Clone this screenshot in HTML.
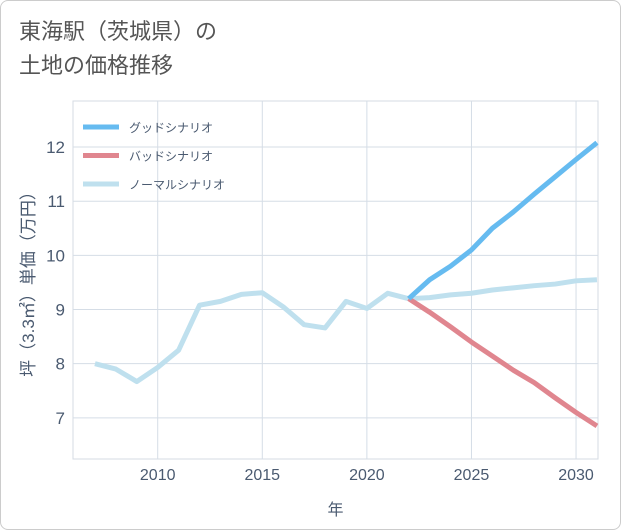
<!DOCTYPE html>
<html><head><meta charset="utf-8">
<style>
body{margin:0;background:#fff;}
#wrap{position:relative;width:619px;height:528px;border:1px solid #ccc;border-radius:8px;background:#fff;overflow:hidden;font-family:"Liberation Sans","Noto Sans CJK JP",sans-serif;}
#title{position:absolute;left:18px;top:14px;font-size:22px;line-height:34px;color:#555;}
</style></head><body>
<div id="wrap">
<div id="title">東海駅（茨城県）の<br>土地の価格推移</div>
<svg id="chart" width="621" height="530" style="position:absolute;left:0;top:0"></svg>
</div>
<script>
const years=[2007,2008,2009,2010,2011,2012,2013,2014,2015,2016,2017,2018,2019,2020,2021,2022];
const normalHist=[8.0,7.9,7.67,7.93,8.25,9.08,9.15,9.28,9.31,9.05,8.72,8.66,9.15,9.02,9.3,9.2];
const futureYears=[2022,2023,2024,2025,2026,2027,2028,2029,2030,2031];
const goodVals=[9.2,9.55,9.8,10.1,10.5,10.8,11.13,11.45,11.77,12.08];
const badVals=[9.2,8.95,8.68,8.4,8.14,7.88,7.65,7.37,7.1,6.85];
const normalFut=[9.2,9.22,9.27,9.3,9.36,9.4,9.44,9.47,9.53,9.55];
const xTicks=[2010,2015,2020,2025,2030];
const yTicks=[7,8,9,10,11,12];
const legendLabels=["グッドシナリオ","バッドシナリオ","ノーマルシナリオ"];

const NS="http://www.w3.org/2000/svg";
const svg=document.getElementById('chart');
const L=72,R=597,T=100,B=458;
const x=v=>L+(v-2005.95)/(2031.05-2005.95)*(R-L);
const y=v=>B-(v-6.24)/(12.85-6.24)*(B-T);
function mk(tag,attrs){const e=document.createElementNS(NS,tag);for(const k in attrs)e.setAttribute(k,attrs[k]);svg.appendChild(e);return e;}
let e=mk('rect',{x:L,y:T,width:R-L,height:B-T,fill:'none',stroke:'#d5dbe3'});


xTicks.forEach(t=>{
 let g=mk('line',{x1:x(t),x2:x(t),y1:T,y2:B,stroke:'#d5dde6'});
 
 
 let l=mk('text',{x:x(t),y:B+21,'text-anchor':'middle','font-size':16,fill:'#4a5a70'});l.textContent=t;
 
 
});
yTicks.forEach(t=>{
 let g=mk('line',{x1:L,x2:R,y1:y(t),y2:y(t),stroke:'#d5dde6'});
 
 
 let l=mk('text',{x:L-8,y:y(t)+6,'text-anchor':'end','font-size':17,fill:'#4a5a70'});l.textContent=t;
 
 
});
function line(xs,vs,color,name){
 const p=mk('polyline',{points:xs.map((v,i)=>x(v)+','+y(vs[i])).join(' '),fill:'none',stroke:color,'stroke-width':5,'stroke-linejoin':'round'});
 
 
}
line(years,normalHist,'#bfe0ee','normal-history-line');
line(futureYears,normalFut,'#bfe0ee','normal-scenario-line');
line(futureYears,badVals,'#e0868f','bad-scenario-line');
line(futureYears,goodVals,'#66bbf0','good-scenario-line');
const lc=['#66bbf0','#e0868f','#bfe0ee'];
legendLabels.forEach((s,i)=>{
 const yy=126+i*28.5;
 let m=mk('line',{x1:82,x2:118,y1:yy,y2:yy,stroke:lc[i],'stroke-width':5});
 
 
 let t=mk('text',{x:128,y:yy+5,'font-size':12,fill:'#4a5a70'});t.textContent=s;
 
 
});
let xt=mk('text',{x:(L+R)/2,y:514,'text-anchor':'middle','font-size':16,fill:'#4a5a70'});xt.textContent='年';


let yt=mk('text',{x:0,y:0,'text-anchor':'middle','font-size':17,fill:'#4a5a70',transform:`translate(33,${(T+B)/2}) rotate(-90)`});yt.textContent='坪（3.3㎡）単価（万円）';


</script>
</body></html>
